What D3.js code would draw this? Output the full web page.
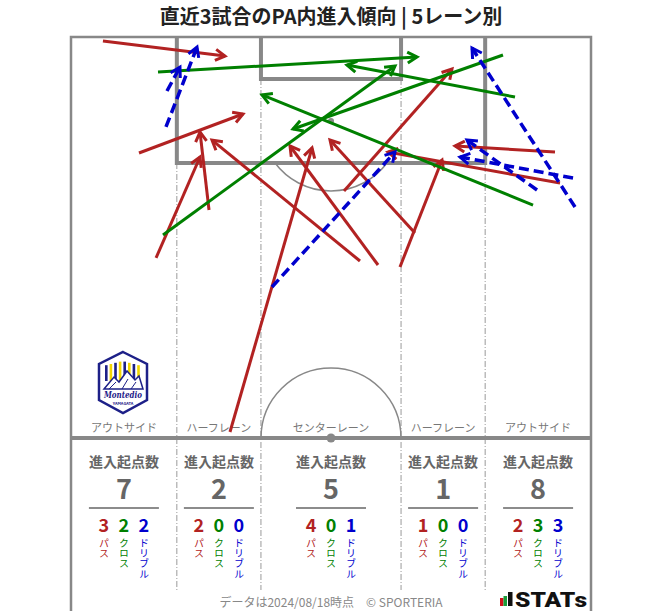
<!DOCTYPE html>
<html><head><meta charset="utf-8">
<script src="https://cdn.jsdelivr.net/npm/d3@7"></script>
<style>
body{margin:0;background:#fff;}
svg{display:block;font-family:"Noto Sans CJK JP","Noto Sans",sans-serif;}
</style>
</head><body>
<svg id="c" width="663" height="611"></svg>
<script>
// ---------- data ----------
const title = "直近3試合のPA内進入傾向 | 5レーン別";
const laneNames = ["アウトサイド", "ハーフレーン", "センターレーン", "ハーフレーン", "アウトサイド"];
const laneBounds = [0, 13.84, 24.84, 43.16, 54.16, 68];   // metres across the pitch
const laneTotals = [7, 2, 5, 1, 8];
const passCounts = [3, 2, 4, 1, 2];
const crossCounts = [2, 0, 0, 0, 3];
const dribbleCounts = [2, 0, 1, 0, 3];
const kindLabels = ["パス", "クロス", "ドリブル"];
const statHeader = "進入起点数";
const footerText = "データは2024/08/18時点　© SPORTERIA";

// arrows: [startX, startY, endX, endY] in metres (x across, y = distance from goal line)
const passArrows = [
  [4.18, 0.52, 20.14, 2.49],
  [8.89, 15.19, 22.49, 10.08],
  [11.12, 28.93, 16.87, 15.71],
  [18.05, 22.65, 16.87, 12.44],
  [20.79, 51.71, 31.52, 14.53],
  [37.79, 29.33, 18.44, 13.49],
  [40.15, 29.85, 28.64, 14.27],
  [44.98, 25.66, 33.87, 13.49],
  [43.02, 30.11, 48.52, 16.10],
  [35.70, 20.16, 49.82, 4.19],
  [63.29, 15.06, 50.22, 14.27],
  [63.95, 19.12, 41.45, 15.06]
];
const crossArrows = [
  [11.38, 4.58, 45.25, 2.62],
  [12.03, 25.92, 42.37, 3.80],
  [58.06, 7.86, 36.09, 3.67],
  [56.49, 2.36, 29.03, 12.05],
  [60.42, 22.00, 24.98, 7.59]
];
const dribbleArrows = [
  [12.42, 11.78, 16.48, 1.31],
  [12.55, 7.07, 14.25, 3.93],
  [26.28, 32.73, 42.37, 15.06],
  [65.91, 22.26, 52.44, 1.44],
  [65.65, 18.46, 50.87, 15.71],
  [60.94, 20.03, 51.78, 13.49]
];

// ---------- setup ----------
const svg = d3.select("#c");
const x = d3.scaleLinear().domain([0, 68]).range([71, 591]);
const y = d3.scaleLinear().domain([0, 52.5]).range([37, 438]);
const rs = x(1) - x(0);
const C = {pass: "#b22222", cross: "#008000", dribble: "#0000cd"};
const lineGray = "#888";

// title
svg.append("text").attr("x", 331).attr("y", 19).attr("text-anchor", "middle")
  .attr("dominant-baseline", "middle").attr("font-size", 20).attr("font-weight", "bold")
  .attr("fill", "#222").text(title);

const pitch = svg.append("g");

// lane dividers
const divs = [
  {m: laneBounds[1], y0: 16.5}, {m: laneBounds[2], y0: 5.5},
  {m: laneBounds[3], y0: 5.5}, {m: laneBounds[4], y0: 16.5}
];
pitch.selectAll("line.div").data(divs).join("line")
  .attr("x1", d => x(d.m)).attr("x2", d => x(d.m))
  .attr("y1", d => y(d.y0)).attr("y2", 590)
  .attr("stroke", "#9a9a9a").attr("stroke-width", 1).attr("stroke-dasharray", "6,2,1,2");

// penalty arc (outside the box)
const spotY = y(11), boxY = y(16.5), arcR = 9.15 * rs;
const dy = boxY - spotY, halfA = Math.acos(dy / arcR);
const arc = d3.arc().innerRadius(arcR).outerRadius(arcR)
  .startAngle(Math.PI - halfA).endAngle(Math.PI + halfA);
pitch.append("path").attr("d", arc()).attr("transform", `translate(${x(34)},${spotY})`)
  .attr("fill", "none").attr("stroke", lineGray).attr("stroke-width", 1.5);
pitch.append("circle").attr("cx", x(34)).attr("cy", spotY).attr("r", 3).attr("fill", lineGray);

// centre circle (upper half)
const cArc = d3.arc().innerRadius(arcR).outerRadius(arcR).startAngle(-Math.PI / 2).endAngle(Math.PI / 2);
pitch.append("path").attr("d", cArc()).attr("transform", `translate(${x(34)},${y(52.5)})`)
  .attr("fill", "none").attr("stroke", lineGray).attr("stroke-width", 1.5);

// penalty box & goal area
pitch.append("path")
  .attr("d", `M${x(13.84)},${y(0)}V${y(16.5)}H${x(54.16)}V${y(0)}`)
  .attr("fill", "none").attr("stroke", lineGray).attr("stroke-width", 4);
pitch.append("path")
  .attr("d", `M${x(24.84)},${y(0)}V${y(5.5)}H${x(43.16)}V${y(0)}`)
  .attr("fill", "none").attr("stroke", lineGray).attr("stroke-width", 4);

// outer lines
pitch.append("path")
  .attr("d", `M${x(0)},611V${y(0)}H${x(68)}V611`)
  .attr("fill", "none").attr("stroke", lineGray).attr("stroke-width", 2.5);
// halfway line
pitch.append("line").attr("x1", x(0)).attr("x2", x(68)).attr("y1", y(52.5)).attr("y2", y(52.5))
  .attr("stroke", lineGray).attr("stroke-width", 4);
pitch.append("circle").attr("cx", x(34)).attr("cy", y(52.5)).attr("r", 4.5).attr("fill", lineGray);

// lane labels & stats
const centers = laneNames.map((n, i) => (x(laneBounds[i]) + x(laneBounds[i + 1])) / 2);
svg.selectAll("text.lane").data(laneNames).join("text")
  .attr("x", (d, i) => centers[i]).attr("y", 429).attr("text-anchor", "middle")
  .attr("dominant-baseline", "middle").attr("font-size", 11).attr("fill", "#777").text(d => d);

const stats = svg.append("g");
laneNames.forEach((n, i) => {
  const cx = centers[i];
  stats.append("text").attr("x", cx).attr("y", 463).attr("text-anchor", "middle")
    .attr("dominant-baseline", "middle").attr("font-size", 14).attr("font-weight", "bold")
    .attr("fill", "#666").text(statHeader);
  stats.append("text").attr("x", cx).attr("y", 492).attr("text-anchor", "middle")
    .attr("dominant-baseline", "middle").attr("font-size", 27).attr("font-weight", "bold")
    .attr("fill", "#666").text(laneTotals[i]);
  stats.append("line").attr("x1", cx - 35).attr("x2", cx + 35).attr("y1", 508).attr("y2", 508)
    .attr("stroke", "#666").attr("stroke-width", 1.3);
  const vals = [passCounts[i], crossCounts[i], dribbleCounts[i]];
  const cols = [C.pass, C.cross, C.dribble];
  vals.forEach((v, k) => {
    const vx = cx + (k - 1) * 20;
    stats.append("text").attr("x", vx).attr("y", 527).attr("text-anchor", "middle")
      .attr("dominant-baseline", "middle").attr("font-size", 18).attr("font-weight", "bold")
      .attr("fill", cols[k]).text(v);
    stats.append("text").attr("x", vx).attr("y", 538)
      .style("writing-mode", "vertical-rl").attr("text-anchor", "start")
      .attr("font-size", 10).attr("letter-spacing", 0.3)
      .attr("fill", cols[k]).text(kindLabels[k]);
  });
});

// arrows
function drawArrows(data, color, dashed) {
  const g = svg.append("g").attr("stroke", color).attr("fill", "none")
    .attr("stroke-linecap", "butt").attr("stroke-linejoin", "miter");
  data.forEach(d => {
    const x1 = x(d[0]), y1 = y(d[1]), x2 = x(d[2]), y2 = y(d[3]);
    g.append("line").attr("x1", x1).attr("y1", y1).attr("x2", x2).attr("y2", y2)
      .attr("stroke-width", dashed ? 3.5 : 3)
      .attr("stroke-dasharray", dashed ? "10,5" : null);
    const a = Math.atan2(y2 - y1, x2 - x1), L = 11, h = Math.PI / 6;
    const p1 = [x2 - L * Math.cos(a - h), y2 - L * Math.sin(a - h)];
    const p2 = [x2 - L * Math.cos(a + h), y2 - L * Math.sin(a + h)];
    g.append("path").attr("d", `M${p1}L${x2},${y2}L${p2}`).attr("stroke-width", 3);
  });
}
drawArrows(passArrows, C.pass, false);
drawArrows(crossArrows, C.cross, false);
drawArrows(dribbleArrows, C.dribble, true);

// team emblem (simplified)
const logo = svg.append("g");
const hex = [[123, 352], [147, 364], [147, 400], [123, 413], [99, 400], [99, 364]];
logo.append("path").attr("d", "M" + hex.join("L") + "Z").attr("fill", "#fff")
  .attr("stroke", "#1d2088").attr("stroke-width", 2.5);
for (let i = 0; i < 8; i++) {
  const sx = 105 + i * 4.6;
  const top = 361 + Math.abs(i - 3.5) * 1.2;
  logo.append("rect").attr("x", sx).attr("y", top).attr("width", 2.6).attr("height", 381 - top)
    .attr("fill", i % 2 ? "#f2d600" : "#1d2088");
}
logo.append("path").attr("d", "M104,389L114,377L119,382L127,371L135,380L139,376L143,389Z")
  .attr("fill", "#fff").attr("stroke", "#1d2088").attr("stroke-width", 1.5);
logo.append("path").attr("d", "M109,389L116,382M122,389L128,379M131,389L136,382")
  .attr("stroke", "#1d2088").attr("stroke-width", 1);
logo.append("text").attr("x", 123).attr("y", 398).attr("text-anchor", "middle")
  .attr("font-size", 8.5).attr("font-weight", "bold").attr("font-style", "italic")
  .attr("fill", "#1d2088").attr("font-family", "DejaVu Serif, serif")
  .attr("textLength", 38).attr("lengthAdjust", "spacingAndGlyphs").text("Montedio");
logo.append("text").attr("x", 123).attr("y", 404.5).attr("text-anchor", "middle")
  .attr("font-size", 4).attr("font-weight", "bold").attr("fill", "#1d2088").text("YAMAGATA");

// footer
svg.append("text").attr("x", 331).attr("y", 604).attr("text-anchor", "middle")
  .attr("dominant-baseline", "middle").attr("font-size", 12).attr("fill", "#888").text(footerText);

// STATs logo
const st = svg.append("g");
st.append("rect").attr("x", 500).attr("y", 598).attr("width", 3.5).attr("height", 8).attr("fill", "#d0121b");
st.append("rect").attr("x", 503.5).attr("y", 596).attr("width", 3.5).attr("height", 10).attr("fill", "#1a9e3a");
st.append("rect").attr("x", 508).attr("y", 592).attr("width", 4.5).attr("height", 14).attr("fill", "#111");
st.append("text").attr("x", 515).attr("y", 607).attr("font-size", 20).attr("font-weight", "900")
  .attr("font-family", "Roboto, sans-serif").attr("fill", "#111")
  .attr("textLength", 72).attr("lengthAdjust", "spacingAndGlyphs").text("STATs");
</script>
</body></html>
